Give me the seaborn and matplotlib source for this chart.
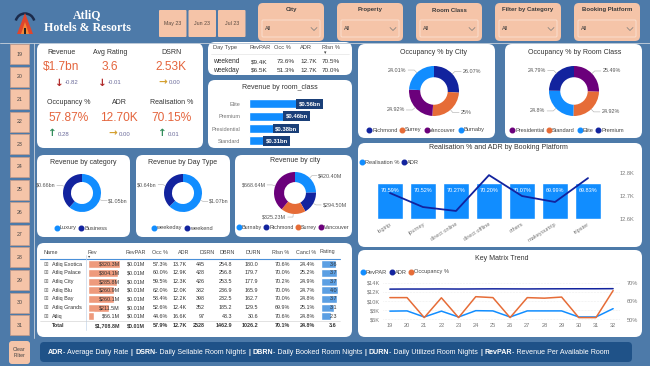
import numpy as np
import matplotlib
matplotlib.use("Agg")
import matplotlib.pyplot as plt
import seaborn as sns
from matplotlib.patches import FancyBboxPatch, Rectangle, Polygon, Arc
from matplotlib.lines import Line2D

# ---------------- data ----------------
months = ["May 23", "Jun 23", "Jul 23"]
filter_titles = ["City", "Property", "Room Class", "Filter by Category", "Booking Platform"]
filter_values = ["All", "All", "All", "All", "All"]
week_buttons = ["19", "20", "21", "22", "23", "24", "25", "26", "27", "28", "29", "30", "31"]

kpi_labels = ["Revenue", "Avg Rating", "DSRN", "Occupancy %", "ADR", "Realisation %"]
kpi_values = ["$1.7bn", "3.6", "2.53K", "57.87%", "12.70K", "70.15%"]
kpi_deltas = [-0.82, -0.01, 0.00, 0.28, 0.00, 0.01]

daytype_cols = ["Day Type", "RevPAR", "Occ %", "ADR", "Rlsn %"]
daytype_names = ["weekend", "weekday"]
daytype_revpar = ["$9.4K", "$6.5K"]
daytype_occ = ["73.6%", "51.3%"]
daytype_adr = ["12.7K", "12.7K"]
daytype_rlsn = ["70.5%", "70.0%"]

room_classes = ["Elite", "Premium", "Presidential", "Standard"]
room_rev = [0.56, 0.46, 0.38, 0.31]

occ_city_labels = ["Richmond", "Surrey", "Vancouver", "Burnaby"]
occ_city = [26.07, 25.00, 24.92, 24.01]
occ_class_labels = ["Presidential", "Standard", "Elite", "Premium"]
occ_class = [25.49, 24.92, 24.80, 24.79]

cat_labels = ["Luxury", "Business"]
cat_rev = [1.05, 0.66]
day_labels = ["weekeday", "weekend"]
day_rev = [1.07, 0.64]
city_labels = ["Burnaby", "Richmond", "Surrey", "Vancouver"]
city_rev = [420.40, 294.50, 325.23, 668.64]

platforms = ["logtrip", "journey", "direct online", "direct offline", "others", "makeyourtrip", "tripster"]
realisation = [70.59, 70.52, 70.27, 70.20, 70.07, 69.99, 69.83]
platform_adr = [12.713, 12.652, 12.635, 12.791, 12.700, 12.674, 12.778]

trend_weeks = [19, 20, 21, 22, 23, 24, 25, 26, 27, 28, 29, 30, 31, 32]
trend_revpar = [7.75, 7.8, 6.45, 7.75, 6.45, 7.85, 7.8, 6.45, 7.8, 7.8, 7.8, 6.45, 6.45, 8.3]
trend_adr = [12.64, 12.66, 12.66, 12.68, 12.66, 12.68, 12.7, 12.69, 12.68, 12.7, 12.71, 12.72, 12.72, 12.74]
trend_occ = [62.1, 62.1, 51.3, 62.0, 51.3, 62.6, 62.1, 51.3, 62.1, 61.8, 62.4, 51.3, 51.3, 65.9]

table_cols = ["Name", "Rev", "RevPAR", "Occ %", "ADR", "DSRN", "DBRN", "DURN", "Rlsn %", "Cancl %", "Rating"]
hotels = ["Atliq Exotica", "Atliq Palace", "Atliq City", "Atliq Blu", "Atliq Bay", "Atliq Grands", "Atliq"]
hotel_rev = [320.3, 304.1, 285.8, 260.9, 260.1, 211.5, 66.1]
hotel_revpar = [0.01, 0.01, 0.01, 0.01, 0.01, 0.01, 0.01]
hotel_occ = [57.3, 60.0, 59.5, 62.0, 58.4, 52.6, 44.6]
hotel_adr = [13.7, 12.9, 12.3, 12.0, 12.2, 12.4, 16.6]
hotel_dsrn = [445, 428, 426, 382, 398, 352, 97]
hotel_dbrn = [254.8, 256.8, 253.5, 236.9, 232.5, 185.2, 43.3]
hotel_durn = [180.0, 179.7, 177.9, 165.9, 162.7, 129.5, 30.6]
hotel_rlsn = [70.6, 70.0, 70.2, 70.0, 70.0, 69.9, 70.6]
hotel_cancl = [24.4, 25.2, 24.9, 24.7, 24.8, 25.1, 24.8]
hotel_rating = [3.6, 3.7, 3.7, 4.0, 3.7, 3.1, 2.3]
total_row = ["Total", "$1,708.8M", "$0.01M", "57.9%", "12.7K", "2528", "1462.9", "1026.2", "70.1%", "24.8%", "3.6"]

footer_parts = [("ADR", True), ("- Average Daily Rate", False), ("|", True),
                ("DSRN", True), ("- Daily Sellable Room Nights", False), ("|", True),
                ("DBRN", True), ("- Daily Booked Room Nights", False), ("|", True),
                ("DURN", True), ("- Daily Utilized Room Nights", False), ("|", True),
                ("RevPAR", True), ("- Revenue Per Available Room", False)]

# ---------------- style ----------------
sns.set_style("white")
plt.rcParams["font.family"] = ["Liberation Sans", "DejaVu Sans"]

BG = "#4d7aa9"
PEACH = "#f5c4a8"
BLUE = "#118DFF"
NAVY = "#12239E"
ORANGE = "#E66C37"
PURPLE = "#6B007B"
KPI_COL = "#e4643c"
TXT = "#333333"
GREY = "#666666"

W, H = 650, 366
fig = plt.figure(figsize=(6.5, 3.66), dpi=100)
fig.patch.set_facecolor(BG)

bg = fig.add_axes([0, 0, 1, 1])
bg.set_xlim(0, W); bg.set_ylim(H, 0); bg.axis("off")
ov = fig.add_axes([0, 0, 1, 1], zorder=5)
ov.set_xlim(0, W); ov.set_ylim(H, 0); ov.axis("off"); ov.patch.set_alpha(0)


def rect_axes(x, y, w, h):
    a = fig.add_axes([x / W, 1 - (y + h) / H, w / W, h / H])
    a.patch.set_alpha(0)
    return a


def rbox(x, y, w, h, fc, r=4, ec="none", lw=0, ax=None, z=1):
    (ax or bg).add_patch(FancyBboxPatch((x, y), w, h, boxstyle=f"round,pad=0,rounding_size={r}",
                                        fc=fc, ec=ec, lw=lw, zorder=z))


def T(x, y, s, fs, color=TXT, ha="center", va="center", weight="normal", family=None, ax=None):
    kw = {}
    if family:
        kw["family"] = family
    return (ax or ov).text(x, y, s, fontsize=fs, color=color, ha=ha, va=va, fontweight=weight, **kw)


def legend_at(labels, colors, x, y, loc="center", fs=4.1):
    handles = [Line2D([], [], marker="o", ls="", color=c, markersize=3.3) for c in colors]
    fig.legend(handles, labels, loc=loc, bbox_to_anchor=(x, y), bbox_transform=bg.transData,
               ncol=len(labels), frameon=False, fontsize=fs, handletextpad=0.15,
               columnspacing=0.5, borderpad=0, borderaxespad=0, handlelength=0.7,
               labelcolor="#444444")


# ---------------- header ----------------
bg.add_patch(Arc((25, 23), 19, 19, theta1=195, theta2=345, color="#1b2a4a", lw=1.8, zorder=2))
bg.add_patch(Polygon([(17, 34), (25, 13), (33, 34)], closed=True, fc="#e0452b", ec="none", zorder=3))
bg.add_patch(Polygon([(21, 34), (25, 22), (29, 34)], closed=True, fc="#f08a3a", ec="none", zorder=3))
bg.add_patch(Rectangle((24, 28), 2, 6, fc="#222222", ec="none", zorder=4))
T(87, 15, "AtliQ", 8.6, color="white", weight="bold", family="Liberation Serif")
T(87, 28, "Hotels & Resorts", 8.6, color="white", weight="bold", family="Liberation Serif")

for i, m in enumerate(months):
    x0 = 159 + i * 29.5
    rbox(x0, 10, 27.5, 27, PEACH, r=1)
    T(x0 + 13.75, 23.5, m, 3.8, color="#5a4a40")

for i, (ft, fv) in enumerate(zip(filter_titles, filter_values)):
    x0 = 258 + i * 79
    rbox(x0, 3, 66, 38, PEACH, r=5)
    T(x0 + 33, 10, ft, 4.3, color="#3a3a3a", weight="bold")
    rbox(x0 + 4, 20, 58, 17, "none", r=1, ec="#fbe3d4", lw=0.6, z=2)
    T(x0 + 7, 29, fv, 4.0, color="#3a3a3a", ha="left")
    bg.plot([x0 + 53, x0 + 56, x0 + 59], [27.5, 30.5, 27.5], color="#777777", lw=0.5, zorder=3)

bg.plot([0, W], [42.5, 42.5], color="#b9c7d6", lw=0.7, zorder=2)
bg.plot([33.5, 33.5], [43, 338], color="#c9d3de", lw=0.6, zorder=2)

for i, wk in enumerate(week_buttons):
    y0 = 44 + i * 22.6
    bg.add_patch(Rectangle((10, y0), 19, 20, fc=PEACH, ec="#c89c88", lw=0.5, zorder=2))
    T(19.5, y0 + 10, wk, 3.8, color="#444444")

# clear filter + footer
rbox(9, 341, 21, 23, PEACH, r=3)
T(19.5, 352.5, "Clear\nFilter", 3.8, color="#444444")
rbox(40, 342, 592, 20, "#1f5288", r=4)

# ---------------- panels ----------------
for (x, y, w, h) in [(37, 43, 166, 105), (208, 42, 144, 33), (208, 80, 144, 68),
                     (358, 44, 137, 94), (505, 44, 137, 94),
                     (37, 155, 93, 82), (136, 155, 94, 82), (235, 155, 117, 82),
                     (358, 143, 284, 104), (37, 243, 315, 94), (358, 250, 284, 87)]:
    rbox(x, y, w, h, "white", r=7)

# ---------------- KPI cards ----------------
kpi_centers = [(61, 52), (110, 52), (171, 52), (69, 103), (119, 103), (172, 103)]
arrow_x = [59, 102, 163, 52, 113, 162]
for lab, val, d, (cx, cy), ax_ in zip(kpi_labels, kpi_values, kpi_deltas, kpi_centers, arrow_x):
    T(cx, cy, lab, 5.0, color=TXT)
    T(cx, cy + 15, val, 8.6, color=KPI_COL)
    if d < 0:
        arr, col = "\u2193", "#b02828"
    elif d > 0:
        arr, col = "\u2191", "#2e8b57"
    else:
        arr, col = "\u2192", "#d4a030"
    T(ax_, cy + 30.5, arr, 7.5, color=col, weight="bold", family="DejaVu Sans")
    T(ax_ + 6, cy + 31, f"{d:.2f}", 4.3, color="#6a6a9a", ha="left")

# ---------------- Day type table ----------------
hdr_x = [213, 249, 274, 300, 322]
val_x = [268, 295, 317, 340]
for c, x in zip(daytype_cols, hdr_x):
    T(x, 47.5, c, 4.1, color="#444444", ha="left")
T(325, 53, "\u25be", 3.5, color="#444444", family="DejaVu Sans")
bg.plot([211, 349], [54, 54], color="#dddddd", lw=0.4, zorder=3)
for r, nm in enumerate(daytype_names):
    y = 61.5 + r * 9
    T(213, y, nm, 4.8, color=TXT, ha="left")
    for s, x in zip([daytype_revpar[r], daytype_occ[r], daytype_adr[r], daytype_rlsn[r]], val_x):
        T(x, y, s, 4.6, color=TXT, ha="right")

# ---------------- Revenue by room_class ----------------
T(280, 87.5, "Revenue by room_class", 5.0, color=TXT)
ax = rect_axes(249, 97.8, 86, 49.3)
sns.barplot(x=room_rev, y=room_classes, orient="h", color=BLUE, width=0.73, saturation=1, ax=ax)
ax.set_xlim(0, 0.651); ax.set_ylim(3.5, -0.5)
for s in ax.spines.values():
    s.set_visible(False)
ax.set_xticks([]); ax.set_xlabel(""); ax.set_ylabel("")
ax.tick_params(axis="y", length=0, pad=6, labelsize=4.0, labelcolor="#777777")
for i, v in enumerate(room_rev):
    ax.text(v - 0.016, i, f"${v:.2f}bn", ha="right", va="center", fontsize=4.2, color="white",
            fontweight="bold", bbox=dict(boxstyle="square,pad=0.4", fc="#1a3f78", ec="none"))


# ---------------- donuts ----------------
def donut(cx, cy, R, values, colors, width, texts):
    a = rect_axes(cx - 1.3 * R, cy - 1.3 * R, 2.6 * R, 2.6 * R)
    wedges, _ = a.pie(values, colors=colors, startangle=90, counterclock=False,
                      wedgeprops=dict(width=width, linewidth=0))
    a.set_xlim(-1.3, 1.3); a.set_ylim(-1.3, 1.3)
    for w, t in zip(wedges, texts):
        ang = np.deg2rad((w.theta1 + w.theta2) / 2)
        c, s = np.cos(ang), np.sin(ang)
        sgn = 1 if c >= 0 else -1
        p1 = (1.0 * c, 1.0 * s)
        p2 = (1.15 * c, 1.15 * s)
        p3 = (p2[0] + sgn * 0.25, p2[1])
        a.plot([p1[0], p2[0], p3[0]], [p1[1], p2[1], p3[1]], color="#aaaaaa", lw=0.4, clip_on=False)
        a.text(p3[0] + sgn * 0.06, p3[1], t, ha="left" if sgn > 0 else "right", va="center",
               fontsize=3.9, color="#555555", clip_on=False)
    return a


def pct(v):
    return f"{v:.2f}".rstrip("0").rstrip(".") + "%"


T(434, 53, "Occupancy % by City", 5.0, color=TXT)
donut(434, 91, 25, occ_city, [NAVY, ORANGE, PURPLE, BLUE], 0.45, [pct(v) for v in occ_city])
legend_at(occ_city_labels, [NAVY, ORANGE, PURPLE, BLUE], 426, 130)

T(575, 53, "Occupancy % by Room Class", 5.0, color=TXT)
donut(574, 91, 25, occ_class, [PURPLE, ORANGE, BLUE, NAVY], 0.45, [pct(v) for v in occ_class])
legend_at(occ_class_labels, [PURPLE, ORANGE, BLUE, NAVY], 567, 130)

T(83, 163, "Revenue by category", 5.0, color=TXT)
donut(82, 193, 19, cat_rev, [BLUE, NAVY], 0.42, [f"${v:.2f}bn" for v in cat_rev])
legend_at(cat_labels, [BLUE, NAVY], 81, 228)

T(183, 163, "Revenue by Day Type", 5.0, color=TXT)
donut(183, 193, 19, day_rev, [BLUE, NAVY], 0.42, [f"${v:.2f}bn" for v in day_rev])
legend_at(day_labels, [BLUE, NAVY], 182, 228)

T(295, 161, "Revenue by city", 5.0, color=TXT)
donut(295, 193, 21, city_rev, [BLUE, NAVY, ORANGE, PURPLE], 0.48, [f"${v:.2f}M" for v in city_rev])
legend_at(city_labels, [BLUE, NAVY, ORANGE, PURPLE], 237, 227.5, loc="center left", fs=3.9)

# ---------------- Realisation & ADR by platform ----------------
T(498, 147.5, "Realisation % and ADR by Booking Platform", 5.0, color=TXT)
legend_at(["Realisation %", "ADR"], [BLUE, NAVY], 360, 162, loc="center left")
ax = rect_axes(373.5, 168, 231, 51)
sns.barplot(x=platforms, y=realisation, color=BLUE, width=0.76, saturation=1, ax=ax)
ax.set_ylim(0, 100); ax.set_xlim(-0.5, len(platforms) - 0.5)
for s in ax.spines.values():
    s.set_visible(False)
ax.set_yticks([]); ax.set_xlabel(""); ax.set_ylabel("")
ax.tick_params(axis="x", length=0, pad=2, labelsize=4.1, labelcolor="#777777")
for lab in ax.get_xticklabels():
    lab.set_rotation(32); lab.set_ha("right"); lab.set_rotation_mode("anchor")
ax.bar_label(ax.containers[0], labels=[f"{v:.2f}%" for v in realisation], padding=-7,
             color="white", fontsize=4.0)
tw = ax.twinx()
sns.lineplot(x=np.arange(len(platforms)), y=platform_adr, ax=tw, color=NAVY, lw=1.3)
tw.set_ylim(12.6, 12.822); tw.set_xlim(-0.5, len(platforms) - 0.5)
tw.set_yticks([12.6, 12.7, 12.8]); tw.set_yticklabels(["12.6K", "12.7K", "12.8K"])
tw.tick_params(axis="y", length=0, pad=11, labelsize=4.1, labelcolor="#777777")
tw.set_ylabel(""); tw.set_xlabel("")
for s in tw.spines.values():
    s.set_visible(False)

# ---------------- Key Matrix Trend ----------------
T(502, 258.5, "Key Matrix Trend", 5.0, color=TXT)
legend_at(["RevPAR", "ADR", "Occupancy %"], [BLUE, NAVY, ORANGE], 361, 272, loc="center left")
ax = rect_axes(383, 281, 237, 40)
sns.lineplot(x=trend_weeks, y=trend_revpar, ax=ax, color=BLUE, lw=1.1)
sns.lineplot(x=trend_weeks, y=trend_adr, ax=ax, color=NAVY, lw=1.1)
ax.set_xlim(18.6, 32.4); ax.set_ylim(5.556, 14.444)
ax.set_yticks([6, 8, 10, 12, 14]); ax.set_yticklabels(["$6K", "$8K", "$10K", "$12K", "$14K"])
ax.set_xticks(trend_weeks); ax.set_xticklabels([str(w) for w in trend_weeks])
ax.tick_params(axis="y", length=0, pad=2, labelsize=4.1, labelcolor="#777777")
ax.tick_params(axis="x", length=0, pad=1.5, labelsize=4.1, labelcolor="#777777")
ax.grid(axis="y", ls=":", color="#dddddd", lw=0.4)
ax.set_xlabel(""); ax.set_ylabel("")
for s in ax.spines.values():
    s.set_visible(False)
tw2 = ax.twinx()
sns.lineplot(x=trend_weeks, y=trend_occ, ax=tw2, color=ORANGE, lw=1.1)
tw2.set_ylim(49.46, 71.08); tw2.set_xlim(18.6, 32.4)
tw2.set_yticks([50, 60, 70]); tw2.set_yticklabels(["50%", "60%", "70%"])
tw2.tick_params(axis="y", length=0, pad=5, labelsize=4.1, labelcolor="#777777")
tw2.set_ylabel(""); tw2.set_xlabel("")
for s in tw2.spines.values():
    s.set_visible(False)

# ---------------- Hotel table ----------------
row_y0, row_dy = 264.3, 8.67
axr = rect_axes(87.5, row_y0 - row_dy / 2, 33.5, row_dy * len(hotels))
sns.barplot(x=hotel_rev, y=hotels, orient="h", color="#ee9a7c", width=0.92, saturation=1, ax=axr)
axr.set_xlim(0, 330); axr.set_ylim(len(hotels) - 0.5, -0.5); axr.axis("off")
axg = rect_axes(321, row_y0 - row_dy / 2, 17.5, row_dy * len(hotels))
sns.barplot(x=hotel_rating, y=hotels, orient="h", color="#5b9fe3", width=0.92, saturation=1, ax=axg)
axg.set_xlim(0, 4.12); axg.set_ylim(len(hotels) - 0.5, -0.5); axg.axis("off")

hdr_left = [43, 88, 125, 152, 178, 200, 220, 246, 272, 296, 320]
val_right = [None, 120, 145, 168, 187, 205, 232, 258, 290, 315, 337]
for c, x in zip(table_cols, hdr_left):
    T(x, 252, c, 3.9, color="#444444", ha="left")
T(89.5, 256.5, "\u25be", 3.2, color="#444444", family="DejaVu Sans")
ov.plot([40, 340], [258.5, 258.5], color="#4a90d9", lw=0.8)
ov.plot([86, 86], [255, 330], color="#c5d6ea", lw=0.5)
ov.plot([40, 340], [320.6, 320.6], color="#cccccc", lw=0.4)
for r, nm in enumerate(hotels):
    y = row_y0 + r * row_dy
    T(45.5, y, "\u229e", 4.0, color="#777777", family="DejaVu Sans")
    T(52, y, nm, 3.9, color=TXT, ha="left")
    cells = [f"${hotel_rev[r]:.1f}M", f"${hotel_revpar[r]:.2f}M", f"{hotel_occ[r]:.1f}%",
             f"{hotel_adr[r]:.1f}K", f"{hotel_dsrn[r]}", f"{hotel_dbrn[r]:.1f}",
             f"{hotel_durn[r]:.1f}", f"{hotel_rlsn[r]:.1f}%", f"{hotel_cancl[r]:.1f}%",
             f"{hotel_rating[r]:.1f}"]
    for s, x in zip(cells, val_right[1:]):
        T(x, y, s, 3.9, color=TXT, ha="right")
yt = row_y0 + len(hotels) * row_dy + 1
T(52, yt, total_row[0], 3.9, color=TXT, ha="left", weight="bold")
for s, x in zip(total_row[1:], val_right[1:]):
    T(x, yt, s, 3.9, color=TXT, ha="right", weight="bold")

# ---------------- footer text ----------------
renderer = fig.canvas.get_renderer()
gap = 2.2


def footer_width(fs):
    tot = 0
    for s, b in footer_parts:
        t = ov.text(0, 0, s, fontsize=fs, fontweight="bold" if b else "normal")
        tot += t.get_window_extent(renderer=renderer).width + (0 if (b and s != "|") else gap)
        t.remove()
    return tot


fs_foot = 5.0 * 574 / footer_width(5.0)
x = 48
for s, b in footer_parts:
    t = T(x, 352.5, s, fs_foot, color="white", ha="left", weight="bold" if b else "normal")
    x += t.get_window_extent(renderer=renderer).width + (0 if (b and s != "|") else gap)

fig.savefig("out.png", dpi=100, facecolor=BG)
